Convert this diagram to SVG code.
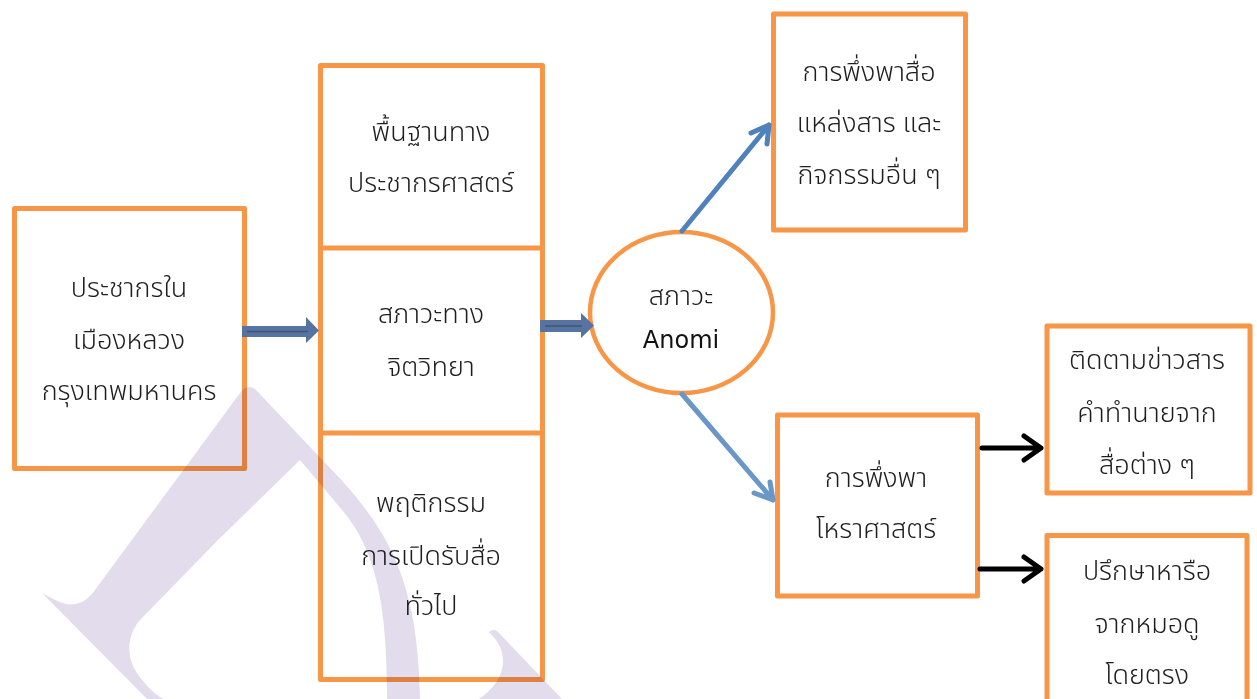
<svg xmlns="http://www.w3.org/2000/svg" width="1257" height="699" viewBox="0 0 1257 699">
<defs>
<style>
.box{fill:#ffffff;stroke:#f79646;stroke-width:5;stroke-linejoin:round}
.div{stroke:#f79646;stroke-width:5}
.t{font-family:"Noto Sans Thai","Noto Sans","DejaVu Sans",sans-serif;font-size:27px;font-weight:300;fill:#1e1e1e;text-anchor:middle}
.lat{font-family:"DejaVu Sans","Noto Sans",sans-serif;font-size:24px;fill:#111;text-anchor:middle}
.blk{fill:#56749f}
.blkline{stroke:#3c5478;stroke-width:1.5}
.blue{stroke:#4f81bd;stroke-width:5;fill:none;stroke-linecap:round;stroke-linejoin:round}
.blue2{stroke:#6a96c8;stroke-width:5;fill:none;stroke-linecap:round;stroke-linejoin:round}
.black{stroke:#000;stroke-width:5;fill:none;stroke-linecap:round;stroke-linejoin:round}
.wm{fill:#e3dcec;mix-blend-mode:multiply}
</style>
</defs>
<rect width="1257" height="699" fill="#ffffff"/>

<g id="node-population">
<rect class="box" x="14.5" y="208.5" width="230" height="260"/>
<text class="t" x="129" y="297">ประชากรใน</text>
<text class="t" x="129" y="349">เมืองหลวง</text>
<text class="t" x="129" y="400">กรุงเทพมหานคร</text>
</g>

<g id="node-factors">
<rect class="box" x="320.5" y="65.5" width="222" height="614"/>
<line class="div" x1="320.5" y1="248" x2="542.5" y2="248"/>
<line class="div" x1="320.5" y1="433" x2="542.5" y2="433"/>
<text class="t" x="431" y="141">พื้นฐานทาง</text>
<text class="t" x="431" y="192">ประชากรศาสตร์</text>
<text class="t" x="431" y="323">สภาวะทาง</text>
<text class="t" x="431" y="376">จิตวิทยา</text>
<text class="t" x="431" y="512">พฤติกรรม</text>
<text class="t" x="431" y="565">การเปิดรับสื่อ</text>
<text class="t" x="431" y="615">ทั่วไป</text>
</g>

<g id="node-anomi">
<ellipse cx="681.5" cy="312.5" rx="91.5" ry="80.5" fill="#ffffff" stroke="#f79646" stroke-width="4.5"/>
<text class="t" x="681" y="305">สภาวะ</text>
<text class="lat" x="681" y="348">Anomi</text>
</g>

<g id="node-media">
<rect class="box" x="773.5" y="14" width="192" height="216"/>
<text class="t" x="869" y="81">การพึ่งพาสื่อ</text>
<text class="t" x="869" y="132">แหล่งสาร และ</text>
<text class="t" x="869" y="184">กิจกรรมอื่น ๆ</text>
</g>

<g id="node-astrology">
<rect class="box" x="777.5" y="415" width="200" height="181"/>
<text class="t" x="876" y="487">การพึ่งพา</text>
<text class="t" x="876" y="538">โหราศาสตร์</text>
</g>

<g id="node-follow">
<rect class="box" x="1047" y="326" width="203" height="167"/>
<text class="t" x="1147" y="369">ติดตามข่าวสาร</text>
<text class="t" x="1147" y="422">คำทำนายจาก</text>
<text class="t" x="1147" y="474">สื่อต่าง  ๆ</text>
</g>

<g id="node-consult">
<rect class="box" x="1047" y="535.5" width="200" height="180"/>
<text class="t" x="1147" y="580">ปรึกษาหารือ</text>
<text class="t" x="1147" y="633">จากหมอดู</text>
<text class="t" x="1147" y="684">โดยตรง</text>
</g>

<g id="connectors">
<path class="blk" d="M242,326 L306,326 L306,317 L319,330.5 L306,343 L306,337 L242,337 Z"/>
<line class="blkline" x1="247" y1="331.5" x2="308" y2="331.5"/>
<path class="blk" d="M540,320 L581,320 L581,313 L594,325.5 L581,338 L581,332 L540,332 Z"/>
<line class="blkline" x1="545" y1="326" x2="582" y2="326" stroke="#7a95bd"/>
<path class="blue" d="M682,231 L769,125 M751,133 L769,125 L767,144"/>
<path class="blue2" d="M682,394 L773,500 M754,493 L773,500 L770,482"/>
<path class="black" d="M982,448 L1041,448 M1024,436 L1041,448 L1024,460"/>
<path class="black" d="M980,569 L1041,569 M1024,557 L1041,569 L1024,581"/>
</g>

<g id="watermark">
<path class="wm" d="M42,593 C55,600 65,606 75,604 C82,603 86,600 92,594 L240,393 C245,386 252,385 257,391 L330,468 C392,532 418,585 420,699 L387,699 C387,610 378,552 342,510 L300,460 L218,540 L142,618 C128,632 126,652 134,668 C142,682 152,692 163,699 L147,699 Z"/>
<path class="wm" d="M489,632 C491,630 494,629 497,631 L562,699 L479,699 C492,690 503,677 503,661 C503,650 498,641 489,632 Z"/>
</g>
</svg>
